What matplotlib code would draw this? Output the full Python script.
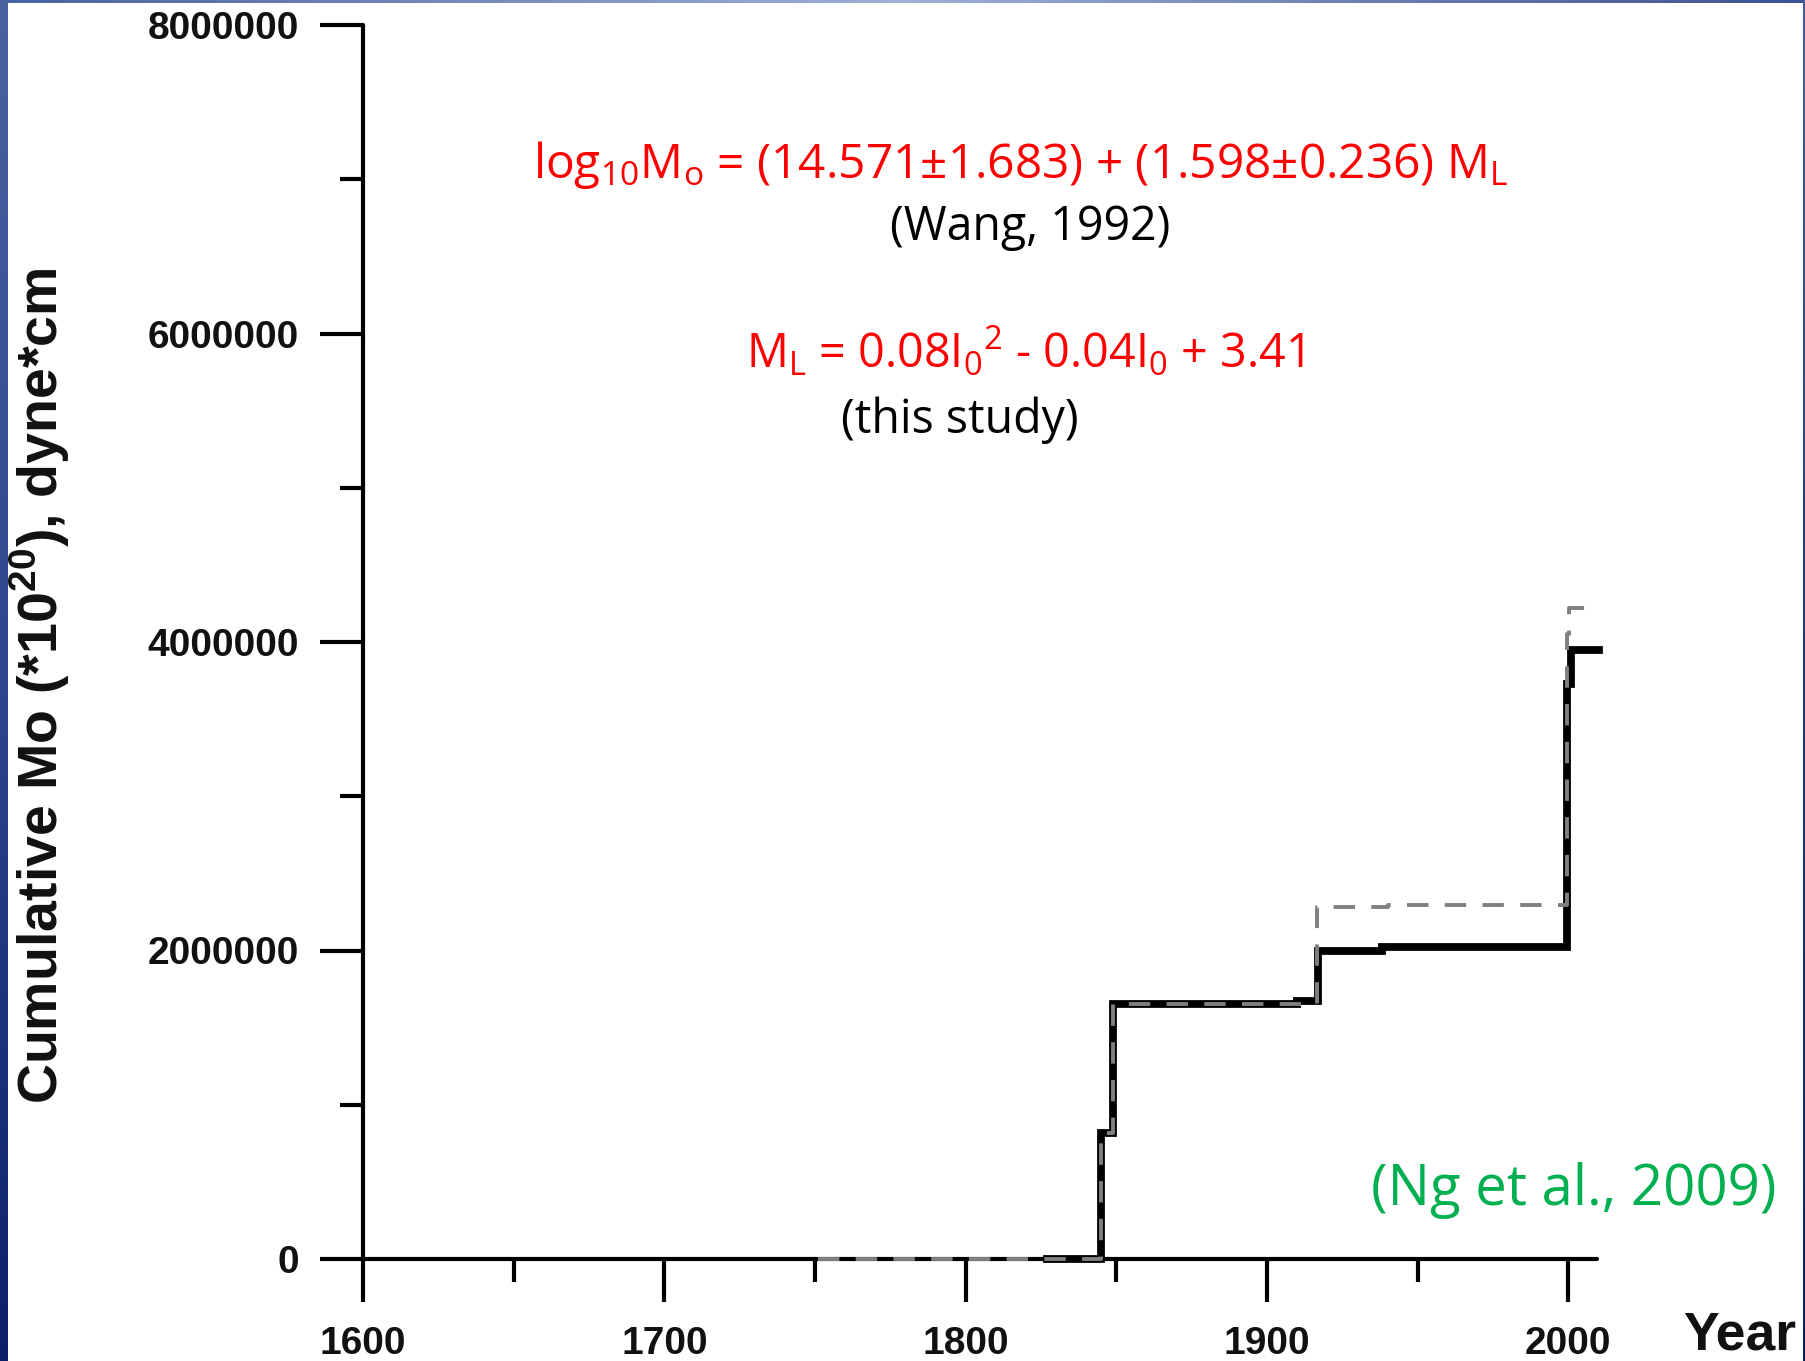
import numpy as np
import matplotlib
matplotlib.use("Agg")
import matplotlib.pyplot as plt

plt.rcParams['mathtext.fontset'] = 'custom'
plt.rcParams['mathtext.rm'] = 'Open Sans'
plt.rcParams['mathtext.it'] = 'Open Sans'
plt.rcParams['mathtext.bf'] = 'Liberation Sans:bold'

# cumulative seismic moment, this study (solid) and Wang 1992 relation (dashed)
study_years = [1827, 1845, 1849, 1910, 1917, 1938, 1999.5, 2001, 2010]
study_mo = [0, 820000, 1655000, 1675000, 2000000, 2020000, 3730000, 3950000, 3950000]

wang_years = [1751, 1845, 1849, 1916.5, 1940, 1999.5, 2000.3, 2009.3]
wang_mo = [0, 820000, 1655000, 2282000, 2298000, 4050000, 4220000, 4220000]

x_ticks = [1600, 1700, 1800, 1900, 2000]
y_ticks = [0, 2000000, 4000000, 6000000, 8000000]

W, H = 1806, 1361
fig = plt.figure(figsize=(W / 100, H / 100), dpi=100)
fig.patch.set_facecolor('white')

# slide frame strips
def strip(rect, colors, vertical):
    a = fig.add_axes(rect)
    c = np.array(colors, dtype=float) / 255.0
    t = np.linspace(0, 1, 200)
    grad = np.stack([np.interp(t, np.linspace(0, 1, len(c)), c[:, k]) for k in range(3)], axis=-1)
    img = grad[:, None, :] if vertical else grad[None, :, :]
    a.imshow(img, aspect='auto', interpolation='bilinear')
    a.set_axis_off()

strip([0, 0, 8 / W, 1], [(74, 98, 160), (45, 70, 140), (12, 32, 105)], True)
strip([0, 1 - 3 / H, 1, 3 / H], [(74, 98, 160), (160, 175, 215), (60, 82, 145)], False)
strip([1 - 3 / W, 0, 3 / W, 1], [(70, 92, 155), (30, 55, 125), (12, 32, 105)], True)

ax = fig.add_axes([363 / W, 102 / H, 1234 / W, 1234 / H])
ax.set_facecolor('none')

ax.step(study_years, study_mo, where='post', color='black', lw=5.6,
        solid_joinstyle='miter', clip_on=False, zorder=3)
ax.step(wang_years, wang_mo, where='post', color='#808080', lw=2.8,
        dashes=(5.5, 4.2), clip_on=False, zorder=4)

ax.set_xlim(1600, 2009.5)
ax.set_ylim(0, 8000000)
ax.set_xticks(x_ticks)
ax.set_xticks(np.arange(1650, 2001, 100), minor=True)
ax.set_yticks(y_ticks)
ax.set_yticks(np.arange(1000000, 8000001, 2000000), minor=True)
ax.set_xticklabels([str(v) for v in x_ticks])
ax.set_yticklabels([str(v) for v in y_ticks])

for side in ['top', 'right']:
    ax.spines[side].set_visible(False)
for side in ['left', 'bottom']:
    ax.spines[side].set_linewidth(3)
    ax.spines[side].set_capstyle('round')

ax.tick_params(which='major', direction='out', length=31, width=3)
ax.tick_params(axis='y', which='major', pad=15)
ax.tick_params(axis='x', which='major', pad=17)
ax.tick_params(which='minor', direction='out', length=16.5, width=3)
for lab in ax.get_xticklabels() + ax.get_yticklabels():
    lab.set_fontfamily('Liberation Sans')
    lab.set_fontweight('bold')
    lab.set_fontsize(28)
    lab.set_color('#111111')

fig.text(40 / W, (H - 686) / H, 'Cumulative Mo (*10$^{\\mathbf{20}}$), dyne*cm',
         rotation=90, ha='center', va='center', family='Liberation Sans',
         fontweight='bold', fontsize=40, color='#111111')
fig.text(1683 / W, (H - 1350) / H, 'Year', ha='left', va='baseline',
         family='Liberation Sans', fontweight='bold', fontsize=38.5, color='#111111')

red = '#ff0000'
fig.text(1021 / W, (H - 178) / H,
         'log$_{10}$M$_{o}$ = (14.571±1.683) + (1.598±0.236) M$_{L}$',
         ha='center', va='baseline', family='Open Sans', fontsize=34.4, color=red)
fig.text(1030 / W, (H - 240) / H, '(Wang, 1992)', ha='center', va='baseline',
         family='Open Sans', fontsize=33.5, color='black')
fig.text(1025 / W, (H - 368) / H,
         'M$_{L}$ = 0.08I$_{0}{}^{2}$ - 0.04I$_{0}$ + 3.41',
         ha='center', va='baseline', family='Open Sans', fontsize=33.6, color=red)
fig.text(960 / W, (H - 433) / H, '(this study)', ha='center', va='baseline',
         family='Open Sans', fontsize=33.5, color='black')
fig.text(1777 / W, (H - 1205) / H, '(Ng et al., 2009)', ha='right', va='baseline',
         family='Open Sans', fontsize=40.5, color='#00b050')

fig.savefig('out.png', dpi=100)
